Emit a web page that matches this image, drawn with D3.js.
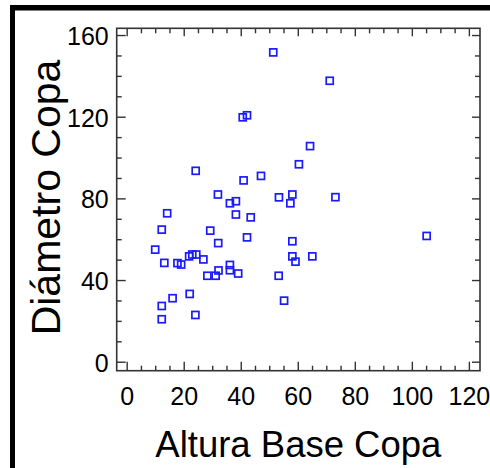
<!DOCTYPE html>
<html>
<head>
<meta charset="utf-8">
<script src="https://cdn.jsdelivr.net/npm/d3@7/dist/d3.min.js"></script>
<style>
  html, body { margin: 0; padding: 0; background: #fff; }
  svg { display: block; }
  text { font-family: "Liberation Sans", Arial, sans-serif; fill: #000; }
</style>
</head>
<body>
<script>
// Crown base height (x) against crown diameter (y), one square per tree
const altura = [
  51.4, 71.2, 40.7, 42.2, 64.3, 60.4, 47.1, 24.2, 41.0, 32.0,
  36.2, 38.3, 53.4, 58.1, 57.4, 73.2, 14.2, 38.3, 43.5, 12.3,
  29.3, 42.2, 32.1, 58.1, 10.0, 21.9, 23.0, 24.4, 26.9, 13.2,
  17.8, 19.1, 36.2, 36.2, 32.2, 39.1, 28.3, 31.2, 58.1, 59.2,
  65.1, 53.3, 55.2, 22.1, 16.1, 12.3, 12.3, 24.1, 105.2
];
const diametro = [
  151.5, 137.6, 119.7, 120.7, 105.6, 96.7, 91.0, 93.5, 88.8, 81.9,
  77.6, 78.6, 80.5, 81.9, 77.6, 80.6, 72.7, 72.1, 70.7, 64.7,
  64.2, 60.9, 58.1, 59.0, 54.9, 51.6, 52.5, 52.5, 50.1, 48.4,
  48.3, 47.6, 47.4, 44.8, 44.7, 43.2, 42.1, 42.1, 51.6, 49.0,
  51.6, 42.1, 29.9, 33.2, 31.1, 27.3, 20.8, 22.9, 61.6
];

const xMajor = [0, 20, 40, 60, 80, 100, 120];
const yMajor = [0, 40, 80, 120, 160];
const xMinor = d3.range(0, 125, 5).filter(v => v % 20 !== 0);
const yMinor = d3.range(0, 165, 10).filter(v => v % 40 !== 0);

const xTitle = "Altura Base Copa";
const yTitle = "Diámetro Copa";

const W = 490, H = 468;
const svg = d3.select("body").append("svg").attr("width", W).attr("height", H);

// thick page frame on the left and top
svg.append("rect").attr("x", 10).attr("y", 5).attr("width", 5).attr("height", H).attr("fill", "#000");
svg.append("rect").attr("x", 10).attr("y", 5).attr("width", W).attr("height", 5.5).attr("fill", "#000");

const plot = { left: 116.7, top: 28.3, right: 480, bottom: 370.7 };

const x = d3.scaleLinear().domain([-3.5, 123.9]).range([plot.left, plot.right]);
const y = d3.scaleLinear().domain([-4.4, 163.3]).range([plot.bottom, plot.top]);

const axisColor = "#333";

function styleAxis(g) {
  g.select(".domain").remove();
  g.selectAll(".tick line").attr("stroke", axisColor).attr("stroke-width", 1.4);
}

// major ticks with labels
const gx = svg.append("g").attr("transform", `translate(0,${plot.bottom})`)
  .call(d3.axisBottom(x).tickValues(xMajor).tickSize(-9).tickPadding(17));
gx.call(styleAxis);
gx.selectAll("text").attr("font-size", 25).attr("fill", "#000")
  .attr("font-family", "Liberation Sans, Arial, sans-serif");

const gy = svg.append("g").attr("transform", `translate(${plot.left},0)`)
  .call(d3.axisLeft(y).tickValues(yMajor).tickSize(-9).tickPadding(8));
gy.call(styleAxis);
gy.selectAll("text").attr("font-size", 25).attr("fill", "#000").attr("dy", "0.38em")
  .attr("font-family", "Liberation Sans, Arial, sans-serif");

// mirrored ticks on top and right, no labels
const gxt = svg.append("g").attr("transform", `translate(0,${plot.top})`)
  .call(d3.axisTop(x).tickValues(xMajor).tickSize(-8).tickFormat(""));
gxt.call(styleAxis);
const gyr = svg.append("g").attr("transform", `translate(${plot.right},0)`)
  .call(d3.axisRight(y).tickValues(yMajor).tickSize(-8).tickFormat(""));
gyr.call(styleAxis);

// minor ticks on all four sides
[[d3.axisBottom(x).tickValues(xMinor), `translate(0,${plot.bottom})`],
 [d3.axisTop(x).tickValues(xMinor), `translate(0,${plot.top})`],
 [d3.axisLeft(y).tickValues(yMinor), `translate(${plot.left},0)`],
 [d3.axisRight(y).tickValues(yMinor), `translate(${plot.right},0)`]
].forEach(([ax, tr]) => {
  svg.append("g").attr("transform", tr)
    .call(ax.tickSize(-5).tickFormat(""))
    .call(styleAxis);
});

// plot frame
svg.append("rect")
  .attr("x", plot.left).attr("y", plot.top)
  .attr("width", plot.right - plot.left).attr("height", plot.bottom - plot.top)
  .attr("fill", "none").attr("stroke", axisColor).attr("stroke-width", 1.6);

// data squares
const s = 7;
svg.append("g").selectAll("rect")
  .data(altura.map((a, i) => [a, diametro[i]]))
  .join("rect")
  .attr("x", d => x(d[0]) - s / 2)
  .attr("y", d => y(d[1]) - s / 2)
  .attr("width", s).attr("height", s)
  .attr("fill", "none")
  .attr("stroke", "#1a1aff")
  .attr("stroke-width", 1.7);

// axis titles
svg.append("text")
  .attr("x", (plot.left + plot.right) / 2 + 0)
  .attr("y", 456.5)
  .attr("text-anchor", "middle")
  .attr("font-size", 36.5)
  .text(xTitle);

svg.append("text")
  .attr("transform", `translate(60,197.5) rotate(-90)`)
  .attr("text-anchor", "middle")
  .attr("font-size", 41)
  .text(yTitle);
</script>
</body>
</html>
